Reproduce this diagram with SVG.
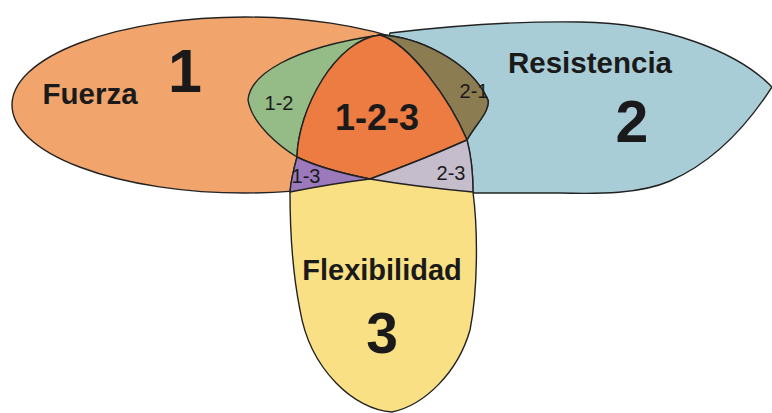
<svg xmlns="http://www.w3.org/2000/svg" width="772" height="413" viewBox="0 0 772 413">
<style>
.r{stroke:#222;stroke-width:1.4;stroke-linejoin:round}
.t{font-family:"Liberation Sans",Arial,sans-serif;fill:#1a1a1a;text-anchor:middle}
.b{font-weight:bold}
</style>
<rect width="772" height="413" fill="#ffffff"/>
<g id="set-2">
<path class="r" fill="#a9cdd7" d="M390,33 C450,26 520,21 580,22 C665,23 738,52 772,87 C752,118 718,160 670,181 C640,194 600,194 560,193 L473,193 L380,190 L380,60 Z"/>
</g>
<g id="set-1">
<ellipse class="r" fill="#f1a46c" cx="245" cy="105" rx="233" ry="88"/>
</g>
<g id="region-1-2">
<path class="r" fill="#95bb86" d="M248,100 C250,75 290,48 380,35 C415,36 470,60 488,100 C490,112 475,125 467,140 C440,152 400,168 370,179 C345,174 315,166 297,157 C282,148 252,125 248,100 Z"/>
</g>
<g id="region-2-1">
<path class="r" fill="#8b7c52" d="M380,35 C415,36 470,60 488,100 C490,112 475,125 467,140 C450,100 410,44 380,35 Z"/>
</g>
<g id="set-3">
<path class="r" fill="#f9e084" d="M380,35 C410,44 450,100 467,140 C471,155 473,175 473,192 C478,230 478,290 470,330 C458,372 425,405 392,412 C355,410 310,370 300,310 C294,280 290,240 290,192 C291,180 294,168 297,157 C298,110 335,40 380,35 Z"/>
</g>
<g id="region-1-2-3">
<path class="r" fill="#ec7c41" d="M380,35 C410,44 450,100 467,140 C440,152 400,168 370,179 C345,174 315,166 297,157 C298,110 335,40 380,35 Z"/>
</g>
<g id="region-1-3">
<path class="r" fill="#9b79bb" d="M297,157 C315,166 345,174 370,179 C345,182 315,187 290,192 C291,180 294,168 297,157 Z"/>
</g>
<g id="region-2-3">
<path class="r" fill="#c5bdcb" d="M370,179 C400,168 440,152 467,140 C471,155 473,175 473,192 C440,189 400,184 370,179 Z"/>
</g>
<g id="connectors"/>
<g id="labels">
<text class="t b" x="90" y="104" font-size="29.5">Fuerza</text>
<text class="t b" x="185" y="92" font-size="61">1</text>
<text class="t b" x="590" y="73" font-size="29.5">Resistencia</text>
<text class="t b" x="632" y="142" font-size="59">2</text>
<text class="t b" x="382" y="280" font-size="29">Flexibilidad</text>
<text class="t b" x="382" y="353" font-size="57">3</text>
<text class="t b" x="377" y="130" font-size="36">1-2-3</text>
<text class="t" x="279" y="110" font-size="20">1-2</text>
<text class="t" x="474" y="98" font-size="20">2-1</text>
<text class="t" x="306" y="183" font-size="20">1-3</text>
<text class="t" x="451" y="180" font-size="20">2-3</text>
</g>
</svg>
